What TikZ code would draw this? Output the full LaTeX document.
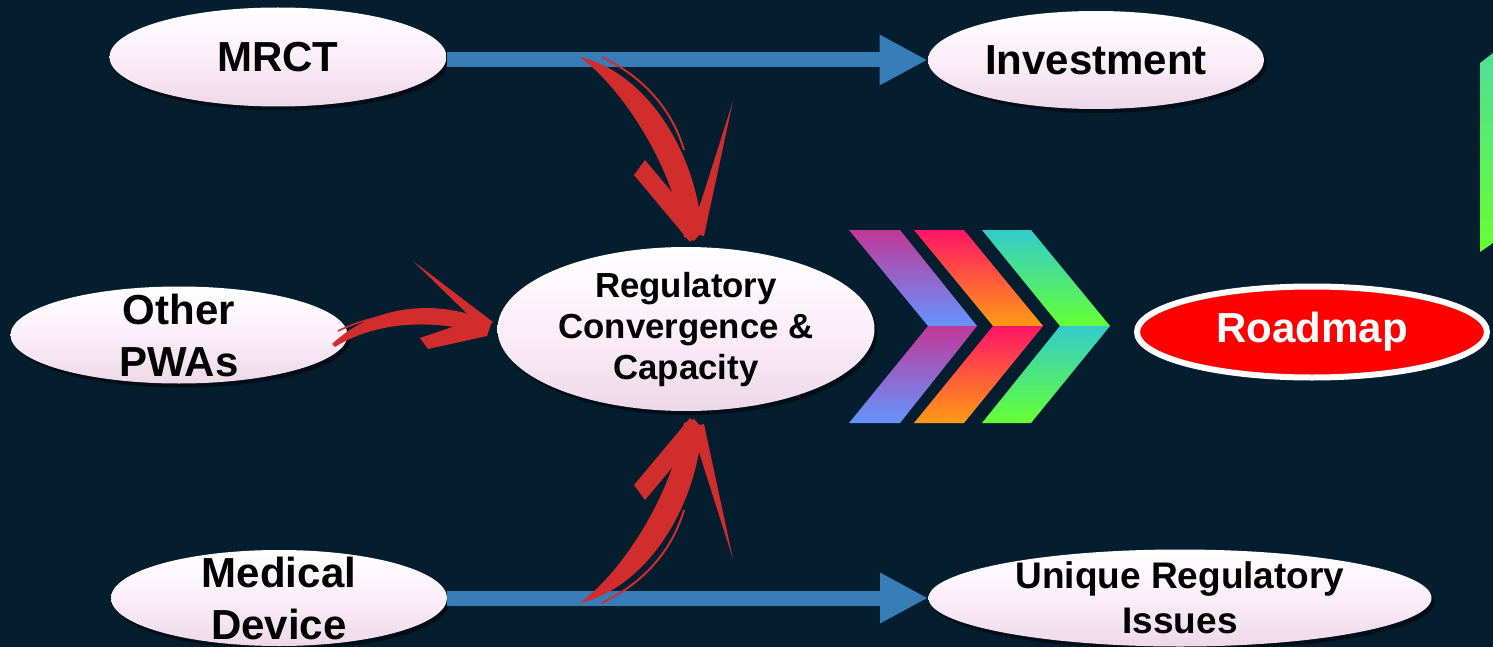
\documentclass[tikz,border=0pt]{standalone}
\usepackage{fontspec}
\setmainfont{Liberation Sans}
\usetikzlibrary{arrows.meta,shapes.geometric,shadows}
\definecolor{bgnavy}{RGB}{4,30,48}
\definecolor{pinkM}{RGB}{251,238,249}
\definecolor{pinkB}{RGB}{238,216,232}
\definecolor{arrblue}{RGB}{55,126,185}
\definecolor{brushred}{RGB}{209,45,45}
\definecolor{roadred}{RGB}{255,0,0}
\definecolor{chAtop}{RGB}{194,56,152}
\definecolor{chAbot}{RGB}{100,148,255}
\definecolor{chBtop}{RGB}{255,20,102}
\definecolor{chBbot}{RGB}{255,155,20}
\definecolor{chCtop}{RGB}{51,204,204}
\definecolor{chCbot}{RGB}{102,255,51}
\definecolor{chDtop}{RGB}{80,222,150}
\newcommand\brushVarrow{%
  \fill[brushred] (580,57) .. controls (645,72) and (696,150) .. (702,232) -- (694,241) -- (684,237) .. controls (672,165) and (622,88) .. (581,58) -- cycle;
  \fill[brushred] (634,175) -- (645,160) -- (702,228) -- (690,242) -- cycle;
  \fill[brushred] (733,101) -- (704,236) -- (691,233) -- cycle;
  \draw[brushred, line width=1pt] (602,57) .. controls (645,78) and (672,110) .. (684,150);
}
\begin{document}
\begin{tikzpicture}[x=0.5pt,y=-0.5pt,
  ell/.style={ellipse, inner sep=0pt, top color=white, bottom color=pinkB, middle color=pinkM,
    drop shadow={shadow xshift=1.5pt, shadow yshift=-2pt, fill=black, opacity=0.5}},
  bigtxt/.style={align=center, text=black, inner sep=0pt, font=\bfseries\fontsize{21pt}{26pt}\selectfont},
  regtxt/.style={align=center, text=black, inner sep=0pt, font=\bfseries\fontsize{17.4pt}{20.5pt}\selectfont},
  uniqtxt/.style={align=center, text=black, inner sep=0pt, font=\bfseries\fontsize{18.5pt}{22.5pt}\selectfont},
  roadtxt/.style={align=center, text=white, inner sep=0pt, font=\bfseries\fontsize{21pt}{26pt}\selectfont},
  bluearr/.style={draw=arrblue, line width=7.5pt, -{Triangle[length=24pt,width=23.5pt]}},
  roadell/.style={ellipse, inner sep=0pt, fill=roadred, draw=white, line width=3pt}
]
\useasboundingbox (0,0) rectangle (1493,647);
\fill[bgnavy] (0,0) rectangle (1493,647);

% partial chevron at right edge
\shade[top color=chDtop, bottom color=chCbot] (1480,63) -- (1493,53) -- (1493,243) -- (1480,252) -- cycle;

% chevrons
\shade[top color=chAtop, bottom color=chAbot] (849,230) -- (900,230) -- (977,326) -- (928,326) -- cycle;
\shade[top color=chAtop, bottom color=chAbot] (928,326) -- (977,326) -- (900,423) -- (849,423) -- cycle;
\shade[top color=chBtop, bottom color=chBbot] (914,230) -- (964,230) -- (1043,326) -- (993,326) -- cycle;
\shade[top color=chBtop, bottom color=chBbot] (993,326) -- (1043,326) -- (964,423) -- (914,423) -- cycle;
\shade[top color=chCtop, bottom color=chCbot] (982,230) -- (1031,230) -- (1110,326) -- (1060,326) -- cycle;
\shade[top color=chCtop, bottom color=chCbot] (1060,326) -- (1110,326) -- (1031,423) -- (982,423) -- cycle;

% nodes
\node[ell, minimum width=168.5pt, minimum height=49.5pt, label={[bigtxt]center:MRCT}] (mrct) at (278,57) {};
\node[ell, minimum width=168pt, minimum height=49pt, label={[bigtxt]center:Investment}] (invest) at (1096,60) {};
\node[ell, minimum width=168.5pt, minimum height=48.5pt, label={[bigtxt]center:Other\\PWAs}] (pwa) at (179,335) {};
\node[ell, minimum width=188.5pt, minimum height=82pt, label={[regtxt]center:Regulatory\\Convergence \&\\Capacity}] (reg) at (686,329) {};
\node[ell, minimum width=168pt, minimum height=48pt, label={[bigtxt]center:Medical\\Device}] (med) at (279,598) {};
\node[ell, minimum width=251.5pt, minimum height=48.5pt, label={[uniqtxt]center:Unique Regulatory\\Issues}] (uniq) at (1180,598) {};
\node[roadell, minimum width=175pt, minimum height=45.5pt, label={[roadtxt]center:Roadmap}] (road) at (1312,332) {};

% blue arrows
\draw[bluearr] (mrct.east |- invest.west) -- (invest.west);
\draw[bluearr] (med.east |- uniq.west) -- (uniq.west);

% red brush arrows
\brushVarrow
\begin{scope}[yshift=-330pt, yscale=-1]
\brushVarrow
\end{scope}
\fill[brushred] (332,344) .. controls (370,308) and (432,296) .. (491,322) -- (487,334) .. controls (430,318) and (375,322) .. (335,347) -- cycle;
\fill[brushred] (420,338) -- (470,321) -- (491,324) -- (487,336) -- (428,349) -- cycle;
\fill[brushred] (413,261) -- (493,322) -- (484,330) -- cycle;
\draw[brushred, line width=0.8pt] (338,331) .. controls (360,320) and (390,313) .. (420,311);
\end{tikzpicture}
\end{document}
